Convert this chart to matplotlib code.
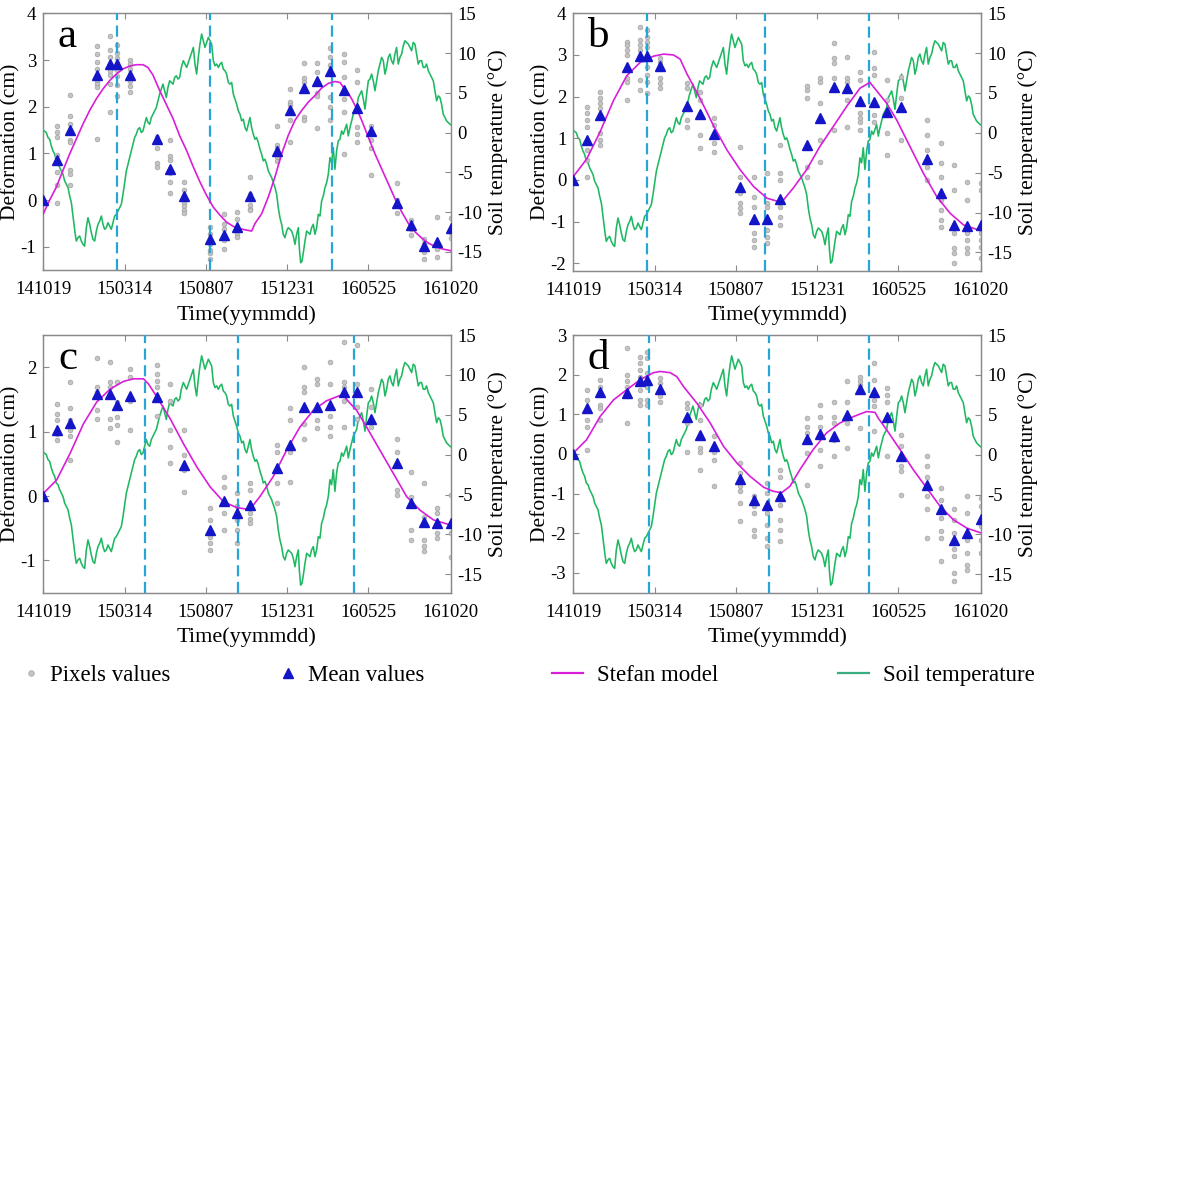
import numpy as np
import matplotlib
matplotlib.use("Agg")
import matplotlib.pyplot as plt
from matplotlib.lines import Line2D

plt.rcParams['font.family'] = ['Liberation Serif', 'DejaVu Serif']
plt.rcParams['axes.unicode_minus'] = False

# ---------------- data ----------------
# x axis: days since 2014-10-19
tick_days = [0, 146, 292, 438, 584, 732]
tick_labels = ['141019', '150314', '150807', '151231', '160525', '161020']

acq_days = [0, 24, 48, 96, 120, 132, 156, 204, 228, 252, 300, 324, 348, 372,
            420, 444, 468, 492, 516, 540, 564, 588, 636, 660, 684, 708, 732]

# soil temperature (deg C)
temp_days = [0, 5.4, 8.4, 11.4, 14.4, 17.4, 20.4, 23.4, 26.4, 29.4, 32.4, 35.4, 38.4,
             41.4, 44.4, 47.4, 50.4, 52.2, 54.5, 57.0, 59.3, 62.3, 65.3, 68.3, 71.3,
             74.3, 77.3, 80.3, 83.3, 86.3, 89.3, 92.3, 95.3, 98.3, 101.3, 104.3, 107.2,
             110.2, 113.2, 116.2, 119.2, 122.2, 125.2, 128.2, 131.2, 134.2, 137.2,
             140.2, 143.2, 146.2, 149.2, 152.2, 155.2, 158.1, 161.1, 164.1, 167.1,
             170.1, 173.1, 176.1, 179.1, 182.1, 185.1, 188.1, 191.1, 194.1, 197.1,
             200.1, 203.1, 206.1, 209.0, 212.0, 215.0, 218.0, 221.0, 224.0, 227.0,
             230.0, 233.0, 236.0, 239.0, 242.0, 245.0, 248.0, 251.6, 254.6, 257.6,
             260.6, 263.6, 266.6, 269.6, 272.5, 275.5, 278.5, 281.5, 284.5, 287.5,
             290.5, 293.5, 296.5, 299.5, 302.5, 305.5, 308.5, 311.5, 314.5, 317.5,
             320.5, 323.4, 326.4, 329.4, 332.4, 335.4, 338.4, 341.4, 344.4, 347.4,
             350.4, 353.4, 356.4, 359.4, 362.4, 365.4, 368.4, 371.3, 374.3, 377.3,
             380.3, 383.3, 386.3, 389.3, 392.3, 395.3, 398.3, 401.3, 404.3, 407.3,
             410.3, 413.3, 416.3, 419.3, 422.2, 425.2, 428.2, 431.2, 434.2, 437.2,
             440.2, 443.2, 446.2, 449.2, 452.2, 455.2, 458.2, 460.0, 462.4, 464.8,
             467.2, 470.2, 473.2, 476.1, 479.1, 482.1, 485.1, 488.1, 491.1, 494.1,
             497.1, 500.1, 503.1, 506.1, 509.1, 512.1, 515.0, 518.0, 521.0, 524.0,
             527.0, 530.0, 533.0, 536.0, 539.0, 542.0, 545.0, 548.0, 551.0, 554.0,
             557.0, 560.0, 563.0, 566.0, 569.0, 572.0, 575.0, 578.0, 581.0, 584.0,
             586.9, 589.9, 592.9, 595.9, 598.9, 601.9, 604.9, 607.9, 610.9, 613.9,
             616.9, 619.8, 622.8, 625.8, 628.8, 631.8, 634.8, 637.8, 640.8, 643.8,
             646.8, 649.8, 652.8, 655.8, 658.8, 661.8, 664.7, 667.7, 670.7, 673.7,
             676.7, 679.7, 682.7, 685.7, 688.7, 691.7, 694.7, 697.7, 700.7, 703.7,
             706.7, 709.7, 712.6, 715.6, 718.6, 721.6, 724.6, 727.6, 730.6, 732]
temp_vals = [0.30, 0.01, -0.62, -0.83, -1.66, -2.29, -2.71, -3.55, -3.76, -4.39, -4.81,
             -5.23, -6.07, -6.49, -6.91, -7.96, -8.80, -9.85, -11.11, -12.57, -13.62,
             -13.20, -12.99, -13.62, -14.04, -14.25, -11.94, -10.69, -11.52, -12.57,
             -13.41, -13.62, -12.36, -11.52, -11.11, -10.48, -11.52, -12.15, -11.94,
             -11.32, -11.73, -12.15, -11.32, -10.48, -10.27, -9.85, -9.43, -9.01,
             -7.75, -6.28, -4.81, -3.97, -3.13, -2.29, -1.45, -0.62, -0.20, 0.43, 0.64,
             0.01, 0.22, 1.06, 1.90, 1.27, 1.06, 1.90, 2.32, 2.74, 3.16, 4.00, 4.84,
             5.47, 6.10, 5.26, 4.42, 5.68, 6.52, 6.31, 6.10, 6.94, 7.15, 6.73, 6.94,
             8.20, 9.04, 8.62, 8.20, 8.83, 9.46, 10.09, 10.71, 8.62, 7.36, 9.46, 11.13,
             12.39, 11.55, 10.71, 11.34, 11.97, 11.55, 11.13, 9.04, 8.41, 8.62, 8.20,
             8.62, 8.83, 7.99, 7.78, 7.36, 6.31, 6.10, 6.31, 4.84, 4.21, 3.58, 2.74,
             2.32, 1.48, 1.69, 0.64, 0.22, 1.06, 1.90, 0.64, -0.20, -0.83, -0.62, -1.24,
             -2.08, -2.71, -3.55, -3.34, -3.97, -4.81, -5.23, -5.65, -6.28, -6.91,
             -7.75, -9.43, -10.69, -11.52, -12.78, -13.20, -12.36, -11.94, -12.15,
             -12.36, -12.99, -14.04, -12.78, -11.94, -14.46, -16.35, -16.14, -15.09,
             -13.62, -12.36, -12.57, -12.78, -11.94, -11.52, -12.78, -11.94, -10.27,
             -10.48, -8.59, -7.96, -6.91, -6.28, -5.23, -3.13, -3.76, -1.87, -4.60,
             -2.29, -1.03, -0.83, 0.22, -0.20, 0.43, 1.06, -0.41, 0.64, 1.48, 2.32,
             2.74, 3.16, 4.42, 4.84, 5.26, 4.21, 2.95, 4.84, 6.52, 6.73, 7.36, 6.52,
             5.26, 6.52, 7.78, 8.62, 9.46, 9.04, 7.36, 8.20, 9.46, 9.88, 9.04, 8.62,
             9.88, 10.71, 8.62, 9.46, 9.88, 10.92, 11.55, 11.34, 11.13, 10.71, 10.29,
             11.34, 11.13, 9.88, 8.62, 9.04, 9.04, 8.20, 8.20, 8.62, 7.78, 7.36, 6.94,
             6.52, 5.26, 4.00, 4.63, 4.42, 3.58, 2.32, 1.90, 1.48, 1.27, 1.06, 1.00]

# ---- panel a ----
mean_a = [0, 0.87, 1.51, 2.68, 2.91, 2.91, 2.68, 1.32, 0.67, 0.1, -0.83, -0.74, -0.57,
          0.1, 1.06, 1.92, 2.4, 2.55, 2.77, 2.35, 1.97, 1.49, -0.06, -0.53, -0.99,
          -0.89, -0.6]
pix_a = [[0.0], [1.59, 1.47, 1.36, 0.97, 0.6, 0.33, -0.07],
         [2.26, 1.81, 1.63, 1.28, 1.24, 0.64, 0.57, 0.32],
         [3.29, 3.13, 2.95, 2.81, 2.63, 2.56, 2.49, 2.42, 1.3],
         [3.52, 3.22, 3.06, 2.92, 2.77, 2.67, 2.49, 1.88],
         [3.32, 3.15, 3.04, 2.93, 2.79, 2.65, 2.47, 2.22],
         [2.99, 2.92, 2.81, 2.56, 2.45, 2.31],
         [1.36, 1.11, 0.79, 0.72],
         [1.29, 0.95, 0.87, 0.58, 0.40, 0.15],
         [0.40, 0.22, -0.06, -0.13, -0.2, -0.27],
         [-0.57, -0.72, -0.93, -1.07, -1.14, -1.25],
         [-0.29, -0.50, -0.61, -0.79, -0.86, -1.04],
         [-0.25, -0.40, -0.61, -0.72, -0.79],
         [0.5, 0.14, -0.11, -0.18, -0.22],
         [1.58, 1.19, 1.12, 0.92, 0.83],
         [2.38, 2.1, 2.03, 1.92, 1.71, 1.24],
         [2.93, 2.61, 2.54, 2.43, 1.79, 1.72],
         [2.93, 2.75, 2.29, 2.22, 1.54],
         [3.25, 3.07, 2.9, 2.2, 2.0, 1.72],
         [3.13, 2.95, 2.63, 2.17, 1.88, 0.99],
         [2.79, 2.53, 1.96, 1.56, 1.42, 1.24],
         [1.58, 1.29, 1.12, 0.55],
         [0.37, 0.0, -0.1, -0.27],
         [-0.43, -0.61, -0.75],
         [-0.82, -0.93, -1.11, -1.25],
         [-0.37, -1.04, -1.21],
         [-0.38, -0.7, -0.81]]
stefan_a_days = [0, 11.4, 23.4, 35.4, 47.4, 59.3, 71.3, 83.3, 95.3, 107.2, 119.2, 131.2,
                 143.2, 155.1, 167.1, 179.1, 188, 197, 209, 221, 233, 245, 257.6, 269.6,
                 281.5, 293.5, 305.5, 317.4, 329.4, 341.4, 353.4, 365.4, 374.3, 380.3,
                 392.3, 404.3, 416.3, 428.2, 440.2, 452.2, 464.2, 476.2, 488.1, 500.1,
                 512.1, 524, 533, 539, 545, 554, 563, 572, 584, 596, 608, 620, 632, 644,
                 656, 668, 680, 692, 704, 716, 732]
stefan_a_vals = [-0.29, 0.0, 0.28, 0.64, 0.99, 1.31, 1.63, 1.92, 2.17, 2.38, 2.56, 2.70,
                 2.81, 2.87, 2.90, 2.90, 2.84, 2.68, 2.35, 2.05, 1.75, 1.38, 1.06, 0.71,
                 0.39, 0.10, -0.15, -0.32, -0.47, -0.56, -0.61, -0.64, -0.66, -0.50,
                 -0.29, 0.07, 0.50, 0.99, 1.39, 1.71, 1.92, 2.10, 2.24, 2.40, 2.50, 2.54,
                 2.52, 2.42, 2.35, 2.17, 1.96, 1.71, 1.35, 0.99, 0.67, 0.35, 0.03, -0.25,
                 -0.50, -0.68, -0.81, -0.92, -0.99, -1.04, -1.08]
dash_a = [132, 300, 518]

# ---- panel b ----
mean_b = [0, 0.96, 1.56, 2.72, 2.98, 2.98, 2.74, 1.78, 1.58, 1.10, -0.18, -0.94, -0.94,
          -0.45, 0.84, 1.49, 2.22, 2.2, 1.9, 1.88, 1.62, 1.74, 0.5, -0.32, -1.08, -1.1,
          -1.08]
pix_b = [[0.0], [1.76, 1.6, 1.44, 1.28, 0.72, 0.48, 0.08],
         [2.12, 1.96, 1.84, 1.72, 1.12, 0.96, 0.84],
         [3.32, 3.24, 3.12, 3.0, 2.44, 2.36, 1.92],
         [3.68, 3.36, 3.24, 3.12, 2.4, 2.16],
         [3.6, 3.44, 3.32, 3.2, 2.72, 2.52, 2.36, 2.08],
         [2.92, 2.84, 2.44, 2.32, 2.2],
         [2.32, 2.2, 1.44, 1.28],
         [2.12, 1.92, 1.08, 0.76],
         [1.48, 1.32, 0.88, 0.68],
         [0.8, 0.08, -0.32, -0.56, -0.68, -0.8],
         [0.08, -0.4, -0.64, -1.28, -1.44, -1.6],
         [0.16, -0.56, -0.64, -1.2, -1.36, -1.52],
         [0.84, 0.16, 0.0, -0.64, -0.88, -1.08],
         [2.26, 2.16, 1.96, 0.32, 0.08],
         [2.44, 2.36, 1.84, 0.96, 0.44],
         [3.28, 2.92, 2.8, 2.44, 1.2],
         [2.96, 2.44, 2.36, 1.92, 1.28],
         [2.6, 2.4, 1.6, 1.48, 1.4, 1.2],
         [3.08, 2.68, 2.52, 1.56, 1.4],
         [2.4, 1.92, 1.12, 0.6],
         [2.48, 1.96, 0.96],
         [1.44, 1.08, 0.72, 0.32, 0.0],
         [0.88, 0.4, 0.08, -0.48, -0.72, -0.96, -1.12],
         [0.36, -0.24, -1.28, -1.64, -1.76, -2.0],
         [-0.04, -0.48, -1.28, -1.44, -1.64, -1.76],
         [-0.08, -0.24, -1.28, -1.44, -1.6, -1.88]]
stefan_b_days = [0, 24, 48, 72, 96, 120, 144, 162, 180, 192, 204, 228, 252, 276, 300,
                 324, 348, 374, 395, 419, 443, 467, 491, 515, 533, 539, 551, 563, 581,
                 605, 629, 653, 677, 701, 732]
stefan_b_vals = [0.08, 0.5, 1.15, 1.9, 2.5, 2.82, 2.97, 3.02, 3.0, 2.9, 2.55, 1.95, 1.3,
                 0.72, 0.24, -0.16, -0.44, -0.54, -0.2, 0.24, 0.8, 1.28, 1.76, 2.2, 2.34,
                 2.24, 2.04, 1.84, 1.44, 0.8, 0.16, -0.4, -0.8, -1.08, -1.22]
dash_b = [132, 344, 532]

# ---- panel c ----
mean_c = [0, 1.02, 1.13, 1.58, 1.59, 1.42, 1.55, 1.53, np.nan, 0.48, -0.52, -0.08,
          -0.27, -0.14, 0.43, 0.8, 1.38, 1.39, 1.41, 1.61, 1.61, 1.19, 0.52, -0.1, -0.41,
          -0.42, -0.42]
pix_c = [[0.0], [1.43, 1.28, 1.18, 0.97, 0.87],
         [1.77, 1.36, 1.18, 1.02, 0.94, 0.56],
         [2.15, 1.69, 1.61, 1.33, 1.2],
         [2.08, 1.77, 1.69, 1.2, 1.05],
         [1.77, 1.46, 1.23, 1.1, 0.84],
         [1.97, 1.85, 1.48, 1.02],
         [2.03, 1.9, 1.79, 1.69, 1.25],
         [1.74, 1.48, 1.02, 0.76, 0.51],
         [1.02, 0.63, 0.4, 0.07],
         [-0.19, -0.37, -0.63, -0.73, -0.84],
         [0.3, 0.14, -0.27, -0.53],
         [0.04, -0.16, -0.37, -0.53, -0.73],
         [0.2, 0.09, -0.27, -0.35, -0.42],
         [0.79, 0.69, 0.2, -0.11],
         [1.36, 1.18, 0.76, 0.69, 0.22],
         [2.0, 1.69, 1.61, 1.12, 0.89],
         [1.82, 1.74, 1.18, 1.05],
         [2.08, 1.74, 1.25, 1.07, 0.94],
         [2.39, 1.77, 1.69, 1.48, 1.07],
         [2.34, 1.74, 1.38, 1.2],
         [1.66, 1.38, 1.07],
         [0.89, 0.69, 0.09, 0.02],
         [0.38, -0.01, -0.53, -0.68],
         [0.2, -0.32, -0.68, -0.78, -0.86],
         [-0.19, -0.27, -0.47, -0.58, -0.65],
         [0.01, -0.58, -0.94]]
stefan_c_days = [0, 24, 48, 72, 96, 120, 144, 162, 180, 189, 204, 228, 252, 276, 300,
                 324, 348, 371, 389, 413, 437, 461, 485, 509, 533, 539, 548, 563, 581,
                 605, 629, 653, 677, 701, 732]
stefan_c_vals = [0.04, 0.25, 0.66, 1.12, 1.46, 1.66, 1.78, 1.82, 1.82, 1.74, 1.54, 1.2,
                 0.81, 0.45, 0.14, -0.09, -0.18, -0.21, -0.01, 0.3, 0.71, 1.07, 1.33,
                 1.48, 1.56, 1.57, 1.47, 1.33, 1.07, 0.71, 0.35, -0.01, -0.22, -0.37,
                 -0.45]
dash_c = [183, 349, 558]

# ---- panel d ----
mean_d = [0, 1.15, 1.56, 1.53, 1.85, 1.87, 1.63, 0.93, 0.48, 0.21, -0.63, -1.15, -1.3,
          -1.05, 0.37, 0.51, 0.44, 0.97, 1.63, 1.55, 0.94, -0.06, -0.79, -1.4, -2.18,
          -1.99, -1.64]
pix_d = [[0.0], [1.62, 1.36, 1.11, 0.86, 0.69, 0.11],
         [1.87, 1.7, 1.24, 1.15, 0.86],
         [2.66, 1.99, 1.83, 1.7, 1.45, 0.78],
         [2.45, 2.29, 2.12, 1.95, 1.62, 1.36, 1.24],
         [2.58, 2.41, 2.04, 1.7, 1.36, 1.24],
         [1.91, 1.78, 1.45, 1.32],
         [1.28, 1.15, 0.78, 0.06],
         [1.24, 0.86, 0.15, 0.06, -0.4],
         [0.44, 0.06, -0.15, -0.82],
         [-0.23, -0.48, -0.82, -0.94, -1.24, -1.7],
         [-1.07, -1.32, -1.49, -1.91, -2.08],
         [-0.73, -0.98, -1.49, -1.78, -2.12, -2.33],
         [-0.4, -0.57, -1.28, -1.66, -1.91, -2.2],
         [0.9, 0.69, 0.53, 0.02, -0.78],
         [1.24, 0.94, 0.69, 0.48, 0.11, -0.31],
         [1.32, 0.94, 0.78, 0.36, -0.06],
         [1.83, 1.32, 0.94, 0.78, 0.15],
         [1.95, 1.83, 1.74, 0.65],
         [2.29, 1.87, 1.36, 1.2, 0.57],
         [1.66, 1.49, 1.32, 0.86, -0.06],
         [0.48, 0.19, -0.31, -0.44, -1.03],
         [-0.06, -0.31, -0.57, -1.07, -1.4, -2.12],
         [-0.86, -1.15, -1.61, -1.95, -2.12, -2.7],
         [-1.4, -1.66, -1.99, -2.41, -2.58, -3.0, -3.21],
         [-1.07, -1.49, -2.16, -2.5, -2.79, -2.92],
         [-1.11, -1.32, -1.82, -2.16, -2.5]]
stefan_d_days = [0, 24, 48, 72, 96, 120, 144, 156, 174, 186, 198, 222, 246, 270, 294,
                 318, 342, 359, 374, 389, 407, 431, 455, 479, 503, 527, 542, 548, 563,
                 587, 611, 635, 659, 683, 707, 732]
stefan_d_vals = [0.02, 0.36, 0.94, 1.36, 1.62, 1.87, 2.05, 2.08, 2.05, 1.95, 1.7, 1.28,
                 0.78, 0.19, -0.23, -0.57, -0.84, -0.94, -0.98, -0.82, -0.4, 0.11, 0.53,
                 0.78, 0.94, 1.07, 1.05, 0.9, 0.61, 0.11, -0.4, -0.86, -1.32, -1.66,
                 -1.87, -1.99]
dash_d = [136, 351, 532]

# ---------------- style ----------------
C_GREEN = '#1fb862'
C_MAG = '#d81ed8'
C_DASH = '#27a6d6'
C_TRI = '#1414c8'
C_DOT_FACE = '#c4c4c4'
C_DOT_EDGE = '#a2a2a2'
C_SPINE = '#8a8a8a'
TICK_FS = 13.5
LABEL_FS = 15.5

W = H = 1200.0
fig = plt.figure(figsize=(12, 12), dpi=100)


def make_panel(rect_px, letter, mean, pix, sdays, svals, dashes, ylim, yticks):
    l, t, r, b = rect_px
    ax = fig.add_axes([l / W, 1 - b / H, (r - l) / W, (b - t) / H])
    ax2 = ax.twinx()
    # temperature (behind)
    ax2.plot(temp_days, temp_vals, color=C_GREEN, lw=1.15, zorder=2)
    ax2.set_ylim(-17.3, 15)
    ax2.set_yticks([-15, -10, -5, 0, 5, 10, 15])
    ax2.set_ylabel('Soil temperature (°C)', fontsize=LABEL_FS, labelpad=4)
    ax2.tick_params(axis='y', direction='in', length=4, color=C_SPINE,
                    labelsize=TICK_FS, pad=5)
    # deformation axis on top
    ax.set_zorder(ax2.get_zorder() + 1)
    ax.patch.set_visible(False)
    for d, vals in zip(acq_days, pix):
        ax.plot([d] * len(vals), vals, 'o', ms=3.4, mfc=C_DOT_FACE, mec=C_DOT_EDGE,
                mew=0.5, ls='none', zorder=2)
    for d in dashes:
        ax.axvline(d, color=C_DASH, lw=1.6, ls=(0, (5, 2.5)), zorder=3)
    ax.plot(sdays, svals, color=C_MAG, lw=1.2, zorder=4)
    ax.plot(acq_days, mean, '^', color=C_TRI, ms=6.6, ls='none', zorder=5)
    ax.set_xlim(0, 732)
    ax.set_ylim(*ylim)
    ax.set_yticks(yticks)
    ax.set_xticks(tick_days)
    ax.set_xticklabels(tick_labels)
    ax.tick_params(axis='both', direction='in', length=4, color=C_SPINE,
                   labelsize=TICK_FS, top=True)
    ax.tick_params(axis='x', pad=8)
    ax.tick_params(axis='y', pad=5)
    ax.set_xlabel('Time(yymmdd)', fontsize=16, labelpad=5)
    ax.set_ylabel('Deformation (cm)', fontsize=LABEL_FS, labelpad=0)
    for a in (ax, ax2):
        for s in a.spines.values():
            s.set_color(C_SPINE)
            s.set_linewidth(0.9)
    ax.text(0.036, 0.868, letter, transform=ax.transAxes, fontsize=31,
            va='baseline', ha='left', zorder=6)
    return ax


make_panel((43.3, 13.3, 450.7, 270.3), 'a', mean_a, pix_a, stefan_a_days, stefan_a_vals,
           dash_a, (-1.5, 4), [-1, 0, 1, 2, 3, 4])
make_panel((573.3, 13.3, 980.7, 270.7), 'b', mean_b, pix_b, stefan_b_days, stefan_b_vals,
           dash_b, (-2.18, 4), [-2, -1, 0, 1, 2, 3, 4])
make_panel((43.3, 335.0, 450.7, 592.7), 'c', mean_c, pix_c, stefan_c_days, stefan_c_vals,
           dash_c, (-1.5, 2.5), [-1, 0, 1, 2])
make_panel((573.3, 335.0, 980.7, 592.7), 'd', mean_d, pix_d, stefan_d_days, stefan_d_vals,
           dash_d, (-3.5, 3), [-3, -2, -1, 0, 1, 2, 3])

# ---------------- legend ----------------
LEG_FS = 16.5
leg_y = 1 - 675 / H
entries = [
    (Line2D([], [], marker='o', ls='none', ms=4, mfc=C_DOT_FACE, mec=C_DOT_EDGE, mew=0.5),
     'Pixels values', 19.5, 1.0, 0.33),
    (Line2D([], [], marker='^', ls='none', ms=7, color=C_TRI),
     'Mean values', 276.5, 1.0, 0.38),
    (Line2D([], [], color=C_MAG, lw=1.6), 'Stefan model', 552, 1.35, 0.62),
    (Line2D([], [], color='#38ad80', lw=1.6), 'Soil temperature', 838, 1.35, 0.62),
]
for h, lab, xpx, hl, htp in entries:
    fig.legend([h], [lab], loc='center left', bbox_to_anchor=(xpx / W, leg_y),
               frameon=False, fontsize=LEG_FS, handlelength=hl, handletextpad=htp,
               borderpad=0, borderaxespad=0)

fig.savefig('out.png', dpi=100, facecolor='white')
